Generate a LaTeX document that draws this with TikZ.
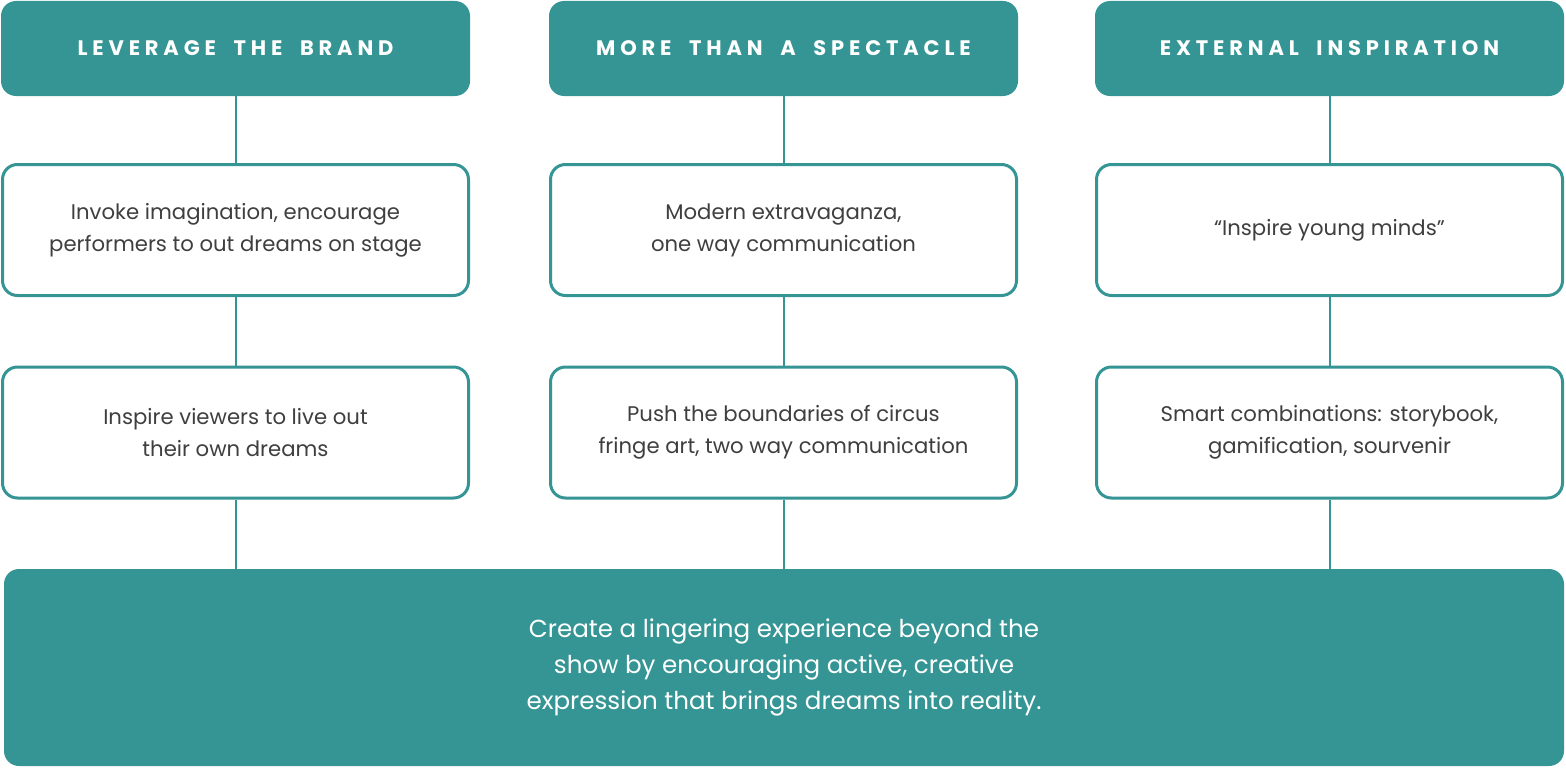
\documentclass[tikz,border=0pt]{standalone}
\usepackage{fontspec}
\setmainfont{Poppins}
\newfontfamily\hdrfont[LetterSpace=23,WordSpace=1.9]{Poppins}
\definecolor{teal}{HTML}{349594}
\definecolor{txt}{HTML}{3F3F3F}
\begin{document}
\begin{tikzpicture}[x=1pt,y=-1pt,
  hdr/.style={fill=teal,draw=none,rounded corners=15pt,minimum width=469pt,minimum height=95pt,
    text=white,font=\hdrfont\bfseries\fontsize{21}{22}\selectfont,inner sep=0pt},
  card/.style={draw=teal,line width=3pt,fill=white,rounded corners=15pt,minimum width=466pt,minimum height=131pt,
    text=txt,font=\fontsize{21.2}{32}\selectfont,align=center,inner sep=0pt},
  final/.style={fill=teal,draw=none,rounded corners=15pt,minimum width=1560pt,minimum height=197pt,
    text=white,font=\fontsize{24.6}{36}\selectfont,align=center,inner sep=0pt},
  link/.style={draw=teal,line width=2pt}]
\useasboundingbox (0,0) rectangle (1566,768);
% headers
\node[hdr] (h1) at (235.5,48.5) {LEVERAGE THE BRAND};
\node[hdr] (h2) at (783.5,48.5) {MORE THAN A SPECTACLE};
\node[hdr] (h3) at (1329.5,48.5) {EXTERNAL INSPIRATION};
% middle cards
\node[card] (m1) at (235.5,230) {Invoke imagination, encourage\\performers to out dreams on stage};
\node[card] (m2) at (783.5,230) {Modern extravaganza,\\one way communication};
\node[card] (m3) at (1329.5,230) {“Inspire young minds”};
% lower cards
\node[card] (b1) at (235.5,432.5) {Inspire viewers to live out\\their own dreams};
\node[card] (b2) at (783.5,432.5) {Push the boundaries of circus\\fringe art, two way communication};
\node[card] (b3) at (1329.5,432.5) {Smart combinations: storybook,\\gamification, sourvenir};
% final
\node[final] (f) at (784,667.5) {Create a lingering experience beyond the\\show by encouraging active, creative\\expression that brings dreams into reality.};
% connectors
\foreach \i in {1,2,3}{
  \draw[link] (h\i.south) -- (m\i.north);
  \draw[link] (m\i.south) -- (b\i.north);
  \draw[link] (b\i.south) -- (b\i.south |- f.north);
}
\end{tikzpicture}
\end{document}
